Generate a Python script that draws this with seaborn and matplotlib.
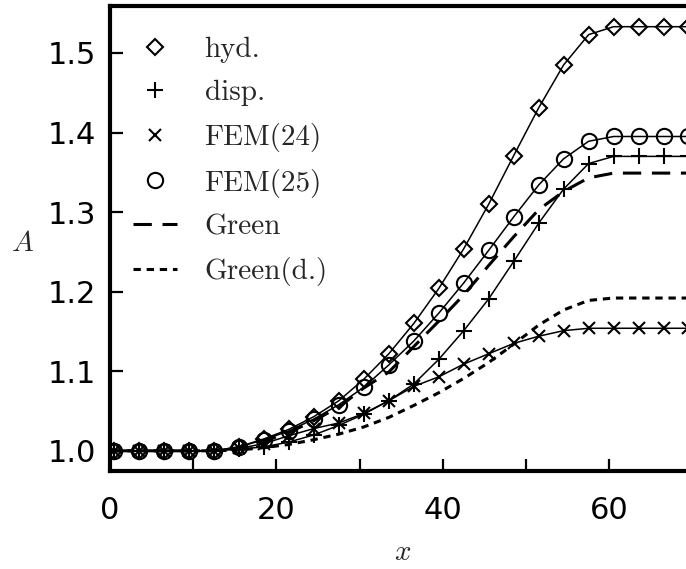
import numpy as np
import pandas as pd
import matplotlib
matplotlib.use("Agg")
import matplotlib.pyplot as plt
from matplotlib.lines import Line2D
from matplotlib.ticker import MultipleLocator
import seaborn as sns

# ---- data ----
x = [0.5, 3.5, 6.5, 9.5, 12.5, 15.5, 18.5, 21.5, 24.5, 27.5, 30.5, 33.5,
     36.5, 39.5, 42.5, 45.5, 48.5, 51.5, 54.5, 57.5, 60.5, 63.5, 66.5, 69.5]
hyd = [1.000, 1.000, 1.000, 1.000, 1.000, 1.005, 1.015, 1.027, 1.043, 1.063,
       1.090, 1.122, 1.160, 1.204, 1.254, 1.310, 1.371, 1.431, 1.485, 1.523,
       1.533, 1.533, 1.533, 1.533]
fem25 = [1.000, 1.000, 1.000, 1.000, 1.000, 1.005, 1.014, 1.025, 1.040, 1.058,
         1.080, 1.108, 1.138, 1.173, 1.211, 1.252, 1.294, 1.334, 1.367, 1.389,
         1.395, 1.395, 1.395, 1.395]
disp = [1.000, 1.000, 1.000, 1.000, 1.000, 1.002, 1.005, 1.011, 1.020, 1.032,
        1.046, 1.063, 1.084, 1.115, 1.151, 1.191, 1.238, 1.286, 1.329, 1.361,
        1.370, 1.370, 1.370, 1.370]
fem24 = [1.000, 1.000, 1.000, 1.000, 1.000, 1.003, 1.009, 1.019, 1.028, 1.035,
         1.047, 1.063, 1.081, 1.093, 1.109, 1.122, 1.135, 1.144, 1.151, 1.154,
         1.154, 1.154, 1.154, 1.154]
green = [1.000, 1.000, 1.000, 1.000, 1.000, 1.003, 1.012, 1.023, 1.038, 1.055,
         1.079, 1.099, 1.131, 1.163, 1.196, 1.233, 1.269, 1.303, 1.326, 1.343,
         1.349, 1.349, 1.349, 1.349]
green_d = [1.000, 1.000, 1.000, 1.000, 1.000, 1.001, 1.004, 1.008, 1.014, 1.021,
           1.030, 1.042, 1.057, 1.073, 1.091, 1.111, 1.134, 1.158, 1.177, 1.189,
           1.192, 1.192, 1.192, 1.192]

labels = ["hyd.", "disp.", "FEM(24)", "FEM(25)", "Green", "Green(d.)"]

sns.set_style("ticks")
plt.rcParams["mathtext.fontset"] = "cm"

fig = plt.figure(figsize=(6.86, 5.69), dpi=100)
ax = fig.add_axes([110 / 686, (569 - 470.7) / 569, 576 / 686, (470.7 - 6) / 569])

DASH = [6, 3.5]
DOT = [2.4, 1.9]

mk = dict(color="black", linewidth=1.1, mfc="none", mec="black", mew=1.5)
sns.lineplot(x=x, y=hyd, ax=ax, marker="D", markersize=8, **mk)
sns.lineplot(x=x, y=disp, ax=ax, marker="+", markersize=12, **mk)
sns.lineplot(x=x, y=fem24, ax=ax, marker="x", markersize=8, **mk)
sns.lineplot(x=x, y=fem25, ax=ax, marker="o", markersize=11, **mk)
sns.lineplot(x=x, y=green, ax=ax, color="black", linewidth=2.2)
ax.lines[-1].set_dashes(DASH)
sns.lineplot(x=x, y=green_d, ax=ax, color="black", linewidth=2.2)
ax.lines[-1].set_dashes(DOT)

ax.set_xlim(0, 69.2)
ax.set_ylim(0.975, 1.559)

for s in ["left", "bottom", "top"]:
    ax.spines[s].set_linewidth(3)
    ax.spines[s].set_color("black")
ax.spines["right"].set_visible(False)

ax.xaxis.set_minor_locator(MultipleLocator(10))
ax.set_xticks([0, 20, 40, 60])
ax.set_xticklabels(["0", "20", "40", "60"])
ax.set_yticks([1.0, 1.1, 1.2, 1.3, 1.4, 1.5])
ax.set_yticklabels(["1.0", "1.1", "1.2", "1.3", "1.4", "1.5"])
ax.tick_params(axis="both", which="both", direction="in", length=9, width=1.6,
               top=False, right=False, labelsize=22, colors="black")
ax.tick_params(axis="x", which="both", pad=18)
ax.tick_params(axis="y", which="both", pad=10)
for t in ax.get_xticklabels() + ax.get_yticklabels():
    t.set_family("DejaVu Sans")

ax.set_xlabel(r"$x$", fontsize=21, va="center", ha="center")
ax.xaxis.set_label_coords(0.508, -0.175)
ax.set_ylabel(r"$A$", fontsize=21, rotation=0, va="center", ha="center")
ax.yaxis.set_label_coords(-0.152, 0.49)

handles = [
    Line2D([], [], ls="none", marker="D", ms=8, mfc="none", mec="black", mew=1.5),
    Line2D([], [], ls="none", marker="+", ms=12, mec="black", mew=1.5),
    Line2D([], [], ls="none", marker="x", ms=8, mec="black", mew=1.5),
    Line2D([], [], ls="none", marker="o", ms=11, mfc="none", mec="black", mew=1.5),
    Line2D([], [], color="black", lw=2.2, dashes=DASH),
    Line2D([], [], color="black", lw=2.2, dashes=DOT),
]
leg = ax.legend(handles, labels, loc="upper left", bbox_to_anchor=(0.0, 0.983),
                frameon=False, handlelength=1.5, handletextpad=0.95,
                labelspacing=0.57, borderaxespad=0.39,
                prop={"family": "cmr10", "size": 21})

fig.savefig("out.png", dpi=100)
